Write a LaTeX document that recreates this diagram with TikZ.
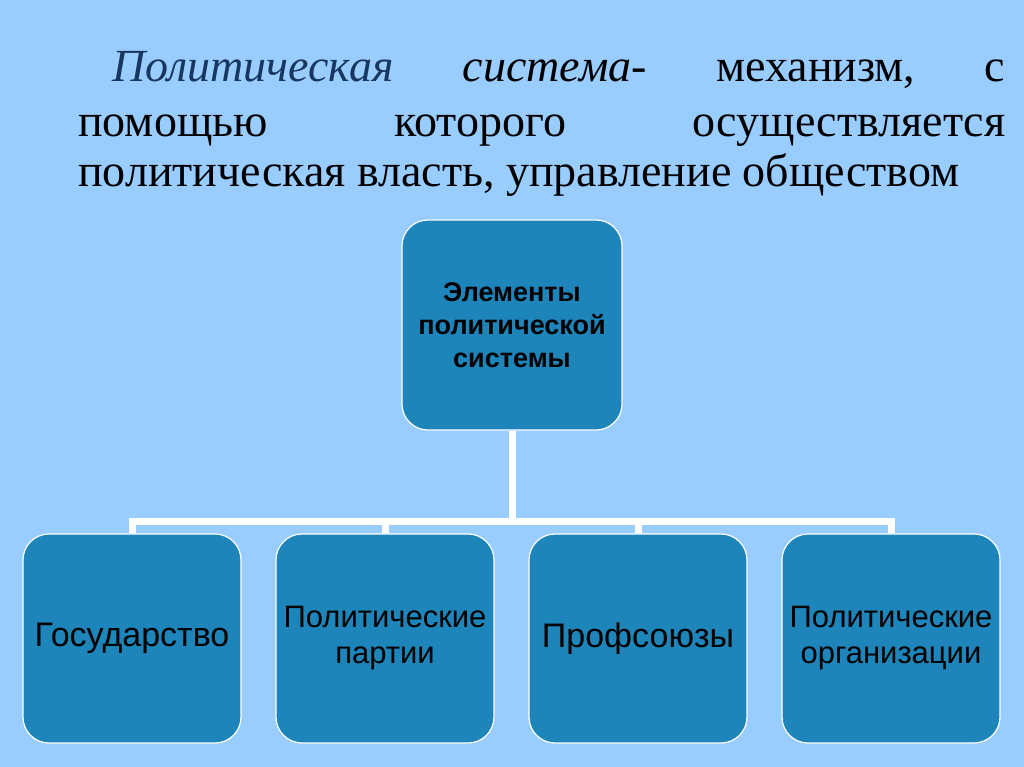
\documentclass[tikz,border=0pt]{standalone}
\usepackage{fontspec}
\setmainfont{Liberation Serif}
\setsansfont{Liberation Sans}
\usepackage{tikz}
\usetikzlibrary{positioning}
\definecolor{skybg}{RGB}{153,204,255}
\definecolor{boxfill}{RGB}{29,133,186}
\definecolor{navytext}{RGB}{23,55,96}
\tikzset{
  elem/.style={draw=white, fill=boxfill, rounded corners=26pt, line width=1.2pt,
               minimum width=218pt, minimum height=209pt, align=center, inner sep=2pt,
               font=\sffamily\fontsize{34}{38}\selectfont},
  elemtwo/.style={elem, font=\sffamily\fontsize{31}{36}\selectfont},
  rootbox/.style={elem, minimum width=220pt, minimum height=210pt,
               font=\sffamily\bfseries\fontsize{27}{33}\selectfont},
  link/.style={draw=white, line width=7pt},
  tline/.style={anchor=base west, inner sep=0pt, font=\fontsize{46}{52}\selectfont},
}
\begin{document}
\begin{tikzpicture}[x=1pt,y=-1pt]
  \fill[skybg] (0,0) rectangle (1024,767);
  \useasboundingbox (0,0) rectangle (1024,767);
  % заголовок
  \node[tline] (t1) at (112,82) {\hbox to 893pt{\textit{\color{navytext}Политическая}\hfill\textit{система-}\hfill механизм,\hfill с}};
  \node[tline] (t2) at (78,137) {\hbox to 927pt{помощью\hfill которого\hfill осуществляется}};
  \node[tline] (t3) at (78,187) {политическая власть, управление обществом};
  % схема
  \node[rootbox] (root) at (512,325) {Элементы\\политической\\системы};
  \node[elem] (gos) at (132,638.5) {Государство};
  \node[elemtwo] (part) at (385,638.5) {Политические\\партии};
  \node[elem] (prof) at (638,638.5) {Профсоюзы};
  \node[elemtwo] (org) at (891,638.5) {Политические\\организации};
  \coordinate (hub) at (512,521);
  \draw[link] (root) -- (hub);
  \foreach \n in {gos,part,prof,org}
    \draw[link] (hub) -| (\n);
\end{tikzpicture}
\end{document}
